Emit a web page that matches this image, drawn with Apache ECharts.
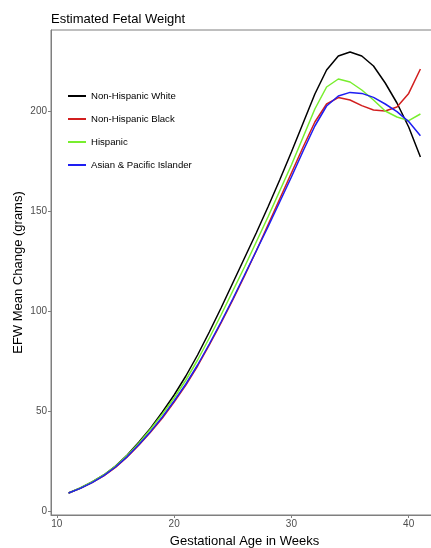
<!DOCTYPE html>
<html>
<head>
<meta charset="utf-8">
<script src="https://cdn.jsdelivr.net/npm/echarts@6/dist/echarts.min.js"></script>
<style>
    html, body { margin: 0; padding: 0; background: #fff; overflow: hidden; }
    #chart { width: 445px; height: 548px; }
</style>
</head>
<body>
<div id="chart"></div>
<script>
var weeks = [11, 12, 13, 14, 15, 16, 17, 18, 19, 20, 21, 22, 23, 24, 25, 26, 27, 28, 29, 30, 31, 32, 33, 34, 35, 36, 37, 38, 39, 40, 41];
var seriesNames = ['Non-Hispanic White', 'Non-Hispanic Black', 'Hispanic', 'Asian & Pacific Islander'];
var white = [9, 11.5, 14.5, 18, 22.5, 28, 34.5, 41.5, 49.5, 58, 67.5, 78, 89.5, 101.5, 114, 126.5, 139, 152, 165.5, 179.5, 194, 208.5, 220.5, 227.5, 229.5, 227.5, 222.5, 214, 204, 192, 177];
var black = [9, 11.3, 14.2, 17.6, 21.8, 27, 33, 39.5, 46.5, 54.5, 63, 72.5, 83, 94, 105.5, 117.5, 130, 143, 156, 169, 182, 194.5, 203.5, 206.7, 205.5, 202.7, 200.5, 200, 202, 208.8, 221];
var hispanic = [9, 11.5, 14.5, 18, 22.4, 27.8, 34, 41, 48.5, 56.5, 65.5, 75.5, 86.5, 98, 110, 122, 134.5, 147, 160, 173, 187, 201, 212, 216, 214.5, 210.5, 205.5, 200, 197, 195.2, 198.5];
var asian = [9, 11.3, 14.2, 17.7, 22, 27.2, 33.2, 39.8, 47, 55, 63.5, 73, 83.5, 94.5, 106, 118, 130, 142, 154.5, 167, 180, 192.5, 202.5, 207.5, 209.3, 208.8, 206.8, 203.5, 199.7, 194.7, 187.6];
var lineColors = ['#000000', '#d21f1f', '#78ee2e', '#1e1ef2'];

function pairs(arr) {
    var out = [];
    for (var i = 0; i < weeks.length; i++) out.push([weeks[i], arr[i]]);
    return out;
}

var myChart = echarts.init(document.getElementById('chart'));
var allData = [white, black, hispanic, asian];
var series = [];
for (var i = 0; i < seriesNames.length; i++) {
    series.push({
        name: seriesNames[i],
        type: 'line',
        data: pairs(allData[i]),
        symbol: 'none',
        lineStyle: { width: 1.5, color: lineColors[i] },
        itemStyle: { color: lineColors[i] }
    });
}

var axisFont = { fontFamily: 'Liberation Sans', fontSize: 10, color: '#4d4d4d', margin: 4 };
var option = {
    backgroundColor: '#fff',
    animation: false,
    title: {
        text: 'Estimated Fetal Weight',
        left: 46,
        top: 8,
        textStyle: { fontFamily: 'Liberation Sans', fontSize: 13, fontWeight: 'normal', color: '#000' }
    },
    legend: {
        orient: 'vertical',
        left: 68,
        top: 91,
        padding: 0,
        itemWidth: 18,
        itemHeight: 2,
        itemGap: 13,
        icon: 'rect',
        data: seriesNames,
        textStyle: { fontFamily: 'Liberation Sans', fontSize: 9.6, color: '#000' }
    },
    grid: {
        left: 51,
        top: 30,
        right: 7,
        bottom: 33,
        outerBoundsMode: 'none',
        show: true,
        borderColor: '#7f7f7f',
        borderWidth: 1
    },
    xAxis: {
        type: 'value',
        min: 9.5,
        max: 42.5,
        name: 'Gestational Age in Weeks',
        nameLocation: 'middle',
        nameGap: 20,
        nameMoveOverlap: false,
        nameTextStyle: { fontFamily: 'Liberation Sans', fontSize: 13, color: '#000' },
        axisLine: { show: true, onZero: false, lineStyle: { color: '#7f7f7f' } },
        axisTick: { show: true, length: 3, lineStyle: { color: '#7f7f7f' }, customValues: [10, 20, 30, 40] },
        axisLabel: Object.assign({ customValues: [10, 20, 30, 40] }, axisFont),
        splitLine: { show: false }
    },
    yAxis: {
        type: 'value',
        min: -2,
        max: 240.5,
        name: 'EFW Mean Change (grams)',
        nameLocation: 'middle',
        nameGap: 26,
        nameMoveOverlap: false,
        nameTextStyle: { fontFamily: 'Liberation Sans', fontSize: 13, color: '#000' },
        axisLine: { show: true, onZero: false, lineStyle: { color: '#7f7f7f' } },
        axisTick: { show: true, length: 3, lineStyle: { color: '#7f7f7f' }, customValues: [0, 50, 100, 150, 200] },
        axisLabel: Object.assign({ customValues: [0, 50, 100, 150, 200] }, axisFont),
        splitLine: { show: false }
    },
    series: series
};
myChart.setOption(option, true);
</script>
</body>
</html>
